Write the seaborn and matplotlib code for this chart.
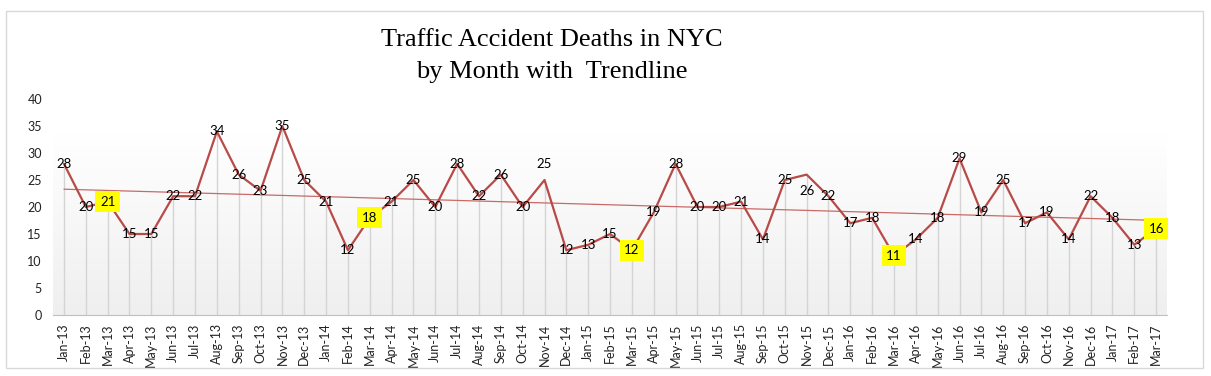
import numpy as np
import pandas as pd
import matplotlib
matplotlib.use("Agg")
import matplotlib.pyplot as plt
import seaborn as sns
from matplotlib.patches import Rectangle

# Monthly data
months = ["Jan-13", "Feb-13", "Mar-13", "Apr-13", "May-13", "Jun-13", "Jul-13", "Aug-13",
          "Sep-13", "Oct-13", "Nov-13", "Dec-13",
          "Jan-14", "Feb-14", "Mar-14", "Apr-14", "May-14", "Jun-14", "Jul-14", "Aug-14",
          "Sep-14", "Oct-14", "Nov-14", "Dec-14",
          "Jan-15", "Feb-15", "Mar-15", "Apr-15", "May-15", "Jun-15", "Jul-15", "Aug-15",
          "Sep-15", "Oct-15", "Nov-15", "Dec-15",
          "Jan-16", "Feb-16", "Mar-16", "Apr-16", "May-16", "Jun-16", "Jul-16", "Aug-16",
          "Sep-16", "Oct-16", "Nov-16", "Dec-16",
          "Jan-17", "Feb-17", "Mar-17"]
deaths = [28, 20, 21, 15, 15, 22, 22, 34, 26, 23, 35, 25,
          21, 12, 18, 21, 25, 20, 28, 22, 26, 20, 25, 12,
          13, 15, 12, 19, 28, 20, 20, 21, 14, 25, 26, 22,
          17, 18, 11, 14, 18, 29, 19, 25, 17, 19, 14, 22,
          18, 13, 16]
highlight = ["Mar-13", "Mar-14", "Mar-15", "Mar-16", "Mar-17"]
title_lines = ["Traffic Accident Deaths in NYC", "by Month with  Trendline"]

df = pd.DataFrame({"month": months, "deaths": deaths})
df["pos"] = np.arange(len(df))

line_color = "#B84A47"

sns.set_style("white")
plt.rcParams["font.family"] = ["Lato", "DejaVu Sans"]

fig = plt.figure(figsize=(12.11, 3.76), dpi=100)
ax = fig.add_axes([0.0438, 0.1622, 0.9199, 0.5745])

# outer chart border
fig.patches.append(Rectangle((0.005, 0.022), 0.988, 0.95, transform=fig.transFigure,
                             fill=False, edgecolor="#D9D9D9", linewidth=1))

# plot area gradient
grad = np.linspace(0, 1, 256).reshape(-1, 1)
ax.imshow(grad, extent=[-0.5, len(df) - 0.5, 0, 33.4], aspect="auto",
          cmap=matplotlib.colors.LinearSegmentedColormap.from_list("g", ["#EFEFEF", "#FFFFFF"]),
          origin="lower", zorder=0)

# drop lines
ax.vlines(df["pos"], 0, df["deaths"], color="#D4D4D4", linewidth=1, zorder=1)

sns.lineplot(data=df, x="pos", y="deaths", color=line_color, linewidth=1.6, ax=ax, zorder=3)
sns.regplot(data=df, x="pos", y="deaths", scatter=False, ci=None, ax=ax,
            line_kws={"color": "#C86A67", "linewidth": 0.9, "zorder": 2})

# data labels
label_shift = {"Nov-14": 2.9, "Nov-15": -3.0}
for _, r in df.iterrows():
    dy = label_shift.get(r["month"], 0)
    if r["month"] in highlight:
        ax.text(r["pos"], r["deaths"] + dy, str(r["deaths"]), ha="center", va="center",
                fontsize=9.5, color="black", zorder=5,
                bbox=dict(boxstyle="square,pad=0.35", facecolor="#FFFF00", edgecolor="none"))
    else:
        ax.text(r["pos"], r["deaths"] + dy, str(r["deaths"]), ha="center", va="center",
                fontsize=9.5, color="black", zorder=5)

ax.set_xlim(-0.5, len(df) - 0.5)
ax.set_ylim(0, 40)
ax.set_yticks(range(0, 41, 5))
ax.set_xticks(df["pos"])
ax.set_xticklabels(df["month"], rotation=90, fontsize=9, color="#222222")
ax.tick_params(axis="y", labelsize=9, labelcolor="#222222", length=0, pad=8)
ax.tick_params(axis="x", which="major", length=0, pad=6)
ax.set_xticks(np.arange(-0.5, len(df), 1), minor=True)
ax.tick_params(axis="x", which="minor", length=4, color="#BFBFBF", width=0.8)
ax.set_xlabel("")
ax.set_ylabel("")
for s in ["top", "right", "left"]:
    ax.spines[s].set_visible(False)
ax.spines["bottom"].set_color("#BFBFBF")
ax.spines["bottom"].set_linewidth(0.8)
ax.grid(False)

# two-line title, each line placed on its own
for txt, ty in zip(title_lines, [0.893, 0.808]):
    fig.text(0.456, ty, txt, ha="center", va="center", fontsize=19,
             family="Liberation Serif", color="black")

fig.savefig("out.png", dpi=100)
